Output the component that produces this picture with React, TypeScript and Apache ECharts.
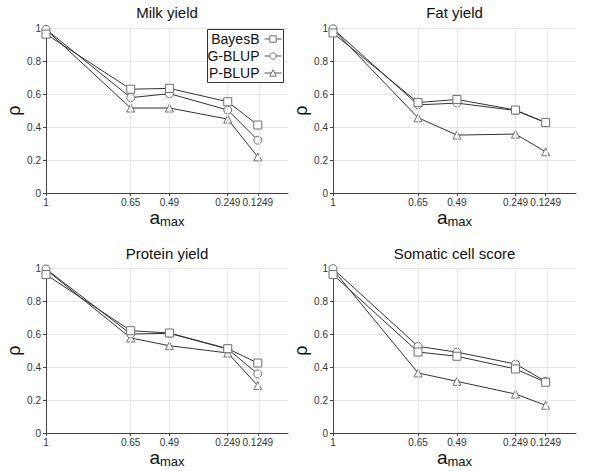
import React, { useEffect, useRef } from "react";
import * as echarts from "echarts";

const xValues = [1, 0.65, 0.49, 0.249, 0.1249];
const xTickLabels = ["1", "0.65", "0.49", "0.249", "0.1249"];
const seriesNames = ["BayesB", "G-BLUP", "P-BLUP"];
const panelTitles = ["Milk yield", "Fat yield", "Protein yield", "Somatic cell score"];

const milkBayesB = [0.963, 0.629, 0.634, 0.553, 0.412];
const milkGBLUP = [0.992, 0.578, 0.602, 0.503, 0.32];
const milkPBLUP = [0.99, 0.515, 0.515, 0.448, 0.219];

const fatBayesB = [0.97, 0.548, 0.567, 0.503, 0.427];
const fatGBLUP = [0.995, 0.534, 0.545, 0.5, 0.427];
const fatPBLUP = [0.993, 0.456, 0.351, 0.357, 0.25];

const proteinBayesB = [0.96, 0.62, 0.606, 0.511, 0.424];
const proteinGBLUP = [0.994, 0.6, 0.604, 0.509, 0.358];
const proteinPBLUP = [0.99, 0.576, 0.529, 0.485, 0.287];

const sccBayesB = [0.96, 0.491, 0.465, 0.388, 0.308];
const sccGBLUP = [0.996, 0.525, 0.49, 0.418, 0.313];
const sccPBLUP = [0.99, 0.364, 0.313, 0.236, 0.168];

const panelData = [
  [milkBayesB, milkGBLUP, milkPBLUP],
  [fatBayesB, fatGBLUP, fatPBLUP],
  [proteinBayesB, proteinGBLUP, proteinPBLUP],
  [sccBayesB, sccGBLUP, sccPBLUP],
];

const symbols = ["rect", "circle", "triangle"];
const FONT = "'Liberation Sans', Arial, sans-serif";

const grids = [
  { left: 46, top: 28, width: 242, height: 165 },
  { left: 333, top: 28, width: 243, height: 165 },
  { left: 46, top: 268, width: 242, height: 165 },
  { left: 333, top: 268, width: 243, height: 165 },
];

export default function App() {
  const ref = useRef<HTMLDivElement>(null);
  useEffect(() => {
    if (!ref.current) return;
    const chart = echarts.init(ref.current, undefined, { renderer: "svg" });
    const xAxis = grids.map((_, i) => ({
      type: "value",
      gridIndex: i,
      min: 0,
      max: 1,
      inverse: true,
      name: "{a|a}{s|max}",
      nameLocation: "middle",
      nameGap: 6,
      nameTextStyle: {
        fontFamily: FONT,
        color: "#111",
        rich: {
          a: { fontSize: 19, fontFamily: FONT, color: "#111" },
          s: { fontSize: 13, fontFamily: FONT, color: "#111", padding: [9, 0, 0, 0] },
        },
      },
      axisLine: { show: true, onZero: false, lineStyle: { color: "#444", width: 1 } },
      axisTick: { show: true, length: 3, customValues: xValues, lineStyle: { color: "#444" } },
      axisLabel: {
        customValues: xValues,
        formatter: (v: number) => xTickLabels[xValues.indexOf(v)] ?? String(v),
        fontSize: 10,
        fontFamily: FONT,
        color: "#333",
        margin: 4,
      },
      splitLine: { show: false },
    }));
    const yAxis = grids.map((_, i) => ({
      type: "value",
      gridIndex: i,
      min: 0,
      max: 1,
      interval: 0.2,
      name: "ρ",
      nameLocation: "middle",
      nameGap: 20,
      nameRotate: 90,
      nameTextStyle: { fontSize: 18, fontFamily: FONT, color: "#111" },
      axisLine: { show: true, onZero: false, lineStyle: { color: "#444", width: 1 } },
      axisTick: { show: true, length: 3, lineStyle: { color: "#444" } },
      axisLabel: {
        fontSize: 10,
        fontFamily: FONT,
        color: "#333",
        margin: 5,
        formatter: (v: number) => String(Math.round(v * 10) / 10),
      },
      splitLine: { show: true, lineStyle: { color: "#e6e6e6", width: 1 } },
    }));
    const series: any[] = [];
    panelData.forEach((sets, gi) => {
      series.push({
        type: "line",
        name: "vgrid" + gi,
        xAxisIndex: gi,
        yAxisIndex: gi,
        data: [],
        silent: true,
        z: 1,
        markLine: {
          silent: true,
          symbol: "none",
          label: { show: false },
          lineStyle: { color: "#e6e6e6", type: "solid", width: 1 },
          data: xValues.slice(1).map((x) => ({ xAxis: x })),
        },
      });
      sets.forEach((vals, si) => {
        series.push({
          type: "line",
          name: seriesNames[si],
          xAxisIndex: gi,
          yAxisIndex: gi,
          data: xValues.map((x, k) => [x, vals[k]]),
          symbol: symbols[si],
          symbolSize: 8,
          showSymbol: true,
          lineStyle: { color: "#333", width: 1 },
          itemStyle: { color: "#fff", borderColor: "#707070", borderWidth: 1 },
          z: 5 - si,
        });
      });
    });
    const legendTops = [32, 49, 66];
    const legends = seriesNames.map((n, i) => ({
      data: [n],
      orient: "vertical",
      align: "right",
      right: 318,
      top: legendTops[i],
      padding: 0,
      itemWidth: 17,
      itemHeight: 8,
      itemGap: 0,
      selectedMode: false,
      z: 10,
      itemStyle: { color: "#fff", borderColor: "#707070", borderWidth: 1 },
      lineStyle: { color: "#555", width: 1 },
      textStyle: { fontSize: 14, fontFamily: FONT, color: "#111" },
    }));
    chart.setOption({
      animation: false,
      backgroundColor: "#fff",
      title: panelTitles.map((t, i) => ({
        text: t,
        left: grids[i].left + grids[i].width / 2,
        textAlign: "center",
        top: i < 2 ? 5 : 246,
        padding: 0,
        textStyle: { fontSize: 15, fontWeight: "normal", fontFamily: FONT, color: "#111" },
      })),
      grid: grids.map((g) => ({ ...g, containLabel: false, outerBoundsMode: "none" })),
      xAxis,
      yAxis,
      legend: legends,
      graphic: [
        {
          type: "rect",
          shape: { x: 207.5, y: 29.5, width: 76, height: 53 },
          style: { fill: "#fff", stroke: "#333", lineWidth: 1 },
          z: 6,
        },
      ],
      series,
    });
    return () => chart.dispose();
  }, []);
  return (
    <div
      ref={ref}
      style={{ position: "fixed", left: 0, top: 0, width: 600, height: 471, background: "#fff" }}
    />
  );
}
